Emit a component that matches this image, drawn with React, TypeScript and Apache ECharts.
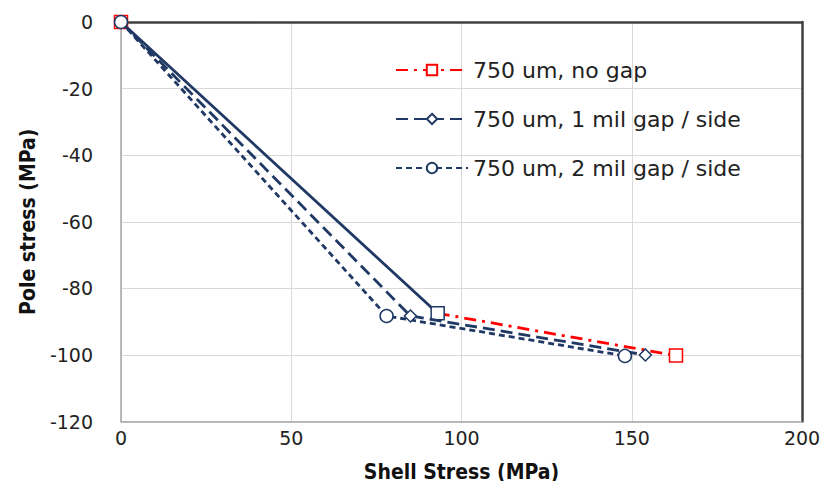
import React, { useEffect, useRef } from "react";
import * as echarts from "echarts";

const seriesNames = ["750 um, no gap", "750 um, 1 mil gap / side", "750 um, 2 mil gap / side"];
const noGap: ([number, number] | null)[] = [[0, 0], null, [93, -87.5], [163, -100.2]];
const noGapSolid: [number, number][] = [[0, 0], [93, -87.5]];
const gap1: [number, number][] = [[0, 0], [85, -88.3], [154, -100]];
const gap2: [number, number][] = [[0, 0], [78, -88.3], [148, -100.3]];

const NAVY = "#1f3864";
const RED = "#ff0000";
const FONT = "DejaVu Sans";

export default function App() {
  const ref = useRef<HTMLDivElement>(null);
  useEffect(() => {
    if (!ref.current) return;
    const chart = echarts.init(ref.current, null, { renderer: "svg" });
    const redData = noGap.map((p) =>
      p === null
        ? "-"
        : p[0] === noGapSolid[1][0]
        ? { value: p, itemStyle: { color: "#ffffff", borderColor: NAVY } }
        : p
    );
    chart.setOption({
      animation: false,
      backgroundColor: "#ffffff",
      grid: { left: 121, right: 32, top: 22, bottom: 67.5, containLabel: false },
      legend: {
        orient: "vertical",
        left: 390,
        top: 54,
        itemWidth: 72,
        itemHeight: 13,
        itemGap: 27,
        data: seriesNames,
        textStyle: { fontFamily: FONT, fontSize: 22, color: "#222" },
      },
      xAxis: [
        {
          type: "value",
          min: 0,
          max: 200,
          interval: 50,
          position: "bottom",
          name: "Shell Stress (MPa)",
          nameLocation: "middle",
          nameGap: 40,
          nameTextStyle: { fontFamily: "DejaVu Sans Condensed", fontWeight: "bold", fontSize: 21, color: "#111" },
          axisLine: { onZero: false, lineStyle: { color: "#a6a6a6", width: 1.5 } },
          axisTick: { show: false },
          axisLabel: { fontFamily: FONT, fontSize: 19, color: "#222", margin: 7 },
          splitLine: { show: true, lineStyle: { color: "#d9d9d9", width: 1 } },
        },
        {
          type: "value",
          min: 0,
          max: 200,
          interval: 50,
          position: "top",
          axisLine: { show: true, onZero: false, lineStyle: { color: "#404040", width: 2.5 } },
          axisTick: { show: false },
          axisLabel: { show: false },
          splitLine: { show: false },
        },
      ],
      yAxis: [
        {
          type: "value",
          min: -120,
          max: 0,
          interval: 20,
          position: "left",
          name: "Pole stress (MPa)",
          nameLocation: "middle",
          nameGap: 83,
          nameTextStyle: { fontFamily: "DejaVu Sans Condensed", fontWeight: "bold", fontSize: 21, color: "#111" },
          axisLine: { show: true, onZero: false, lineStyle: { color: "#a6a6a6", width: 1.5 } },
          axisTick: { show: false },
          axisLabel: { fontFamily: FONT, fontSize: 19, color: "#222", margin: 28 },
          splitLine: { show: true, lineStyle: { color: "#d9d9d9", width: 1 } },
        },
        {
          type: "value",
          min: -120,
          max: 0,
          interval: 20,
          position: "right",
          axisLine: { show: true, onZero: false, lineStyle: { color: "#404040", width: 2.5 } },
          axisTick: { show: false },
          axisLabel: { show: false },
          splitLine: { show: false },
        },
      ],
      series: [
        {
          name: "solid",
          type: "line",
          data: noGapSolid,
          symbol: "none",
          lineStyle: { color: NAVY, width: 2.8, type: "solid" },
          z: 2,
        },
        {
          name: seriesNames[0],
          type: "line",
          data: redData,
          symbol: "rect",
          symbolSize: 13,
          connectNulls: false,
          itemStyle: { color: "#ffffff", borderColor: RED, borderWidth: 1.5 },
          lineStyle: { color: RED, width: 2.8, type: [12, 6, 3, 6] },
          z: 3,
        },
        {
          name: seriesNames[1],
          type: "line",
          data: gap1,
          symbol: "diamond",
          symbolSize: 12,
          itemStyle: { color: "#ffffff", borderColor: NAVY, borderWidth: 1.5 },
          lineStyle: { color: NAVY, width: 2.8, type: [12, 6] },
          z: 4,
        },
        {
          name: seriesNames[2],
          type: "line",
          data: gap2,
          symbol: "circle",
          symbolSize: 13,
          itemStyle: { color: "#ffffff", borderColor: NAVY, borderWidth: 1.5 },
          lineStyle: { color: NAVY, width: 2.8, type: [6, 4] },
          z: 4,
        },
      ],
    });
    return () => chart.dispose();
  }, []);
  return <div ref={ref} style={{ width: 834, height: 489, margin: -8 }} />;
}
